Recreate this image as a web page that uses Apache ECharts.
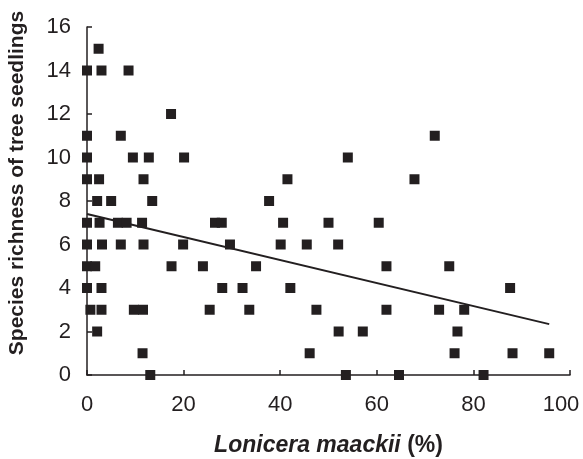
<!DOCTYPE html>
<html>
<head>
<meta charset="utf-8">
<script src="https://cdn.jsdelivr.net/npm/echarts@6/dist/echarts.min.js"></script>
<style>
  html, body { margin: 0; padding: 0; background: #fff; }
  #chart { width: 583px; height: 459px; }
</style>
</head>
<body>
<div id="chart"></div>
<script>
// Lonicera maackii cover (%) and seedling richness
const coverPct = [
  2.4, 0, 3.0, 8.6, 17.4,
  0, 7.0, 72,
  0, 9.5, 12.8, 20.1, 54,
  0, 2.5, 11.7, 41.5, 67.8,
  2.1, 5.0, 13.5, 37.7,
  0, 2.6, 6.4, 8.2, 11.4, 26.5, 27.9, 40.6, 50, 60.4,
  0, 3.1, 7.0, 11.7, 19.9, 29.6, 40.1, 45.5, 52,
  0, 1.7, 17.5, 24, 35, 62, 75,
  0, 3.0, 28, 32.2, 42.1, 87.6,
  0.7, 3.0, 9.7, 11.6, 25.4, 33.6, 47.5, 62, 72.9, 78.1,
  2.1, 52.1, 57.1, 76.7,
  11.5, 46.1, 76.1, 88.1, 95.7,
  13.1, 53.6, 64.6, 82.1
];
const richness = [
  15, 14, 14, 14, 12,
  11, 11, 11,
  10, 10, 10, 10, 10,
  9, 9, 9, 9, 9,
  8, 8, 8, 8,
  7, 7, 7, 7, 7, 7, 7, 7, 7, 7,
  6, 6, 6, 6, 6, 6, 6, 6, 6,
  5, 5, 5, 5, 5, 5, 5,
  4, 4, 4, 4, 4, 4,
  3, 3, 3, 3, 3, 3, 3, 3, 3, 3,
  2, 2, 2, 2,
  1, 1, 1, 1, 1,
  0, 0, 0, 0
];
// fitted trend line end points
const trendX = [0, 95.7];
const trendY = [7.40, 2.34];

const xTicks = [0, 20, 40, 60, 80, 100];
const yTicks = [0, 2, 4, 6, 8, 10, 12, 14, 16];

const ink = "#231f20";
const font = "Liberation Sans";
const points = coverPct.map((x, i) => [x, richness[i]]);
const trend = trendX.map((x, i) => [x, trendY[i]]);
const xMax = xTicks[xTicks.length - 1];

const chart = echarts.init(document.getElementById("chart"));
chart.setOption({
  animation: false,
  backgroundColor: "#fff",
  grid: { left: 87, right: 13, top: 27, bottom: 84, containLabel: false, outerBoundsMode: "none" },
  xAxis: {
    type: "value",
    min: xTicks[0],
    max: xMax,
    interval: 20,
    name: "{i|Lonicera maackii}{n| (%)}",
    nameLocation: "middle",
    nameGap: 59,
    nameTextStyle: {
      rich: {
        i: { fontFamily: font, fontSize: 23, fontWeight: "bold", fontStyle: "italic", color: ink },
        n: { fontFamily: font, fontSize: 23, fontWeight: "bold", color: ink },
      },
    },
    axisLine: { onZero: false, lineStyle: { color: ink, width: 1.5 } },
    axisTick: { inside: true, length: 5, lineStyle: { color: ink, width: 1.5 } },
    axisLabel: {
      fontFamily: font,
      fontSize: 22,
      color: ink,
      margin: 19,
      formatter: (v) => (v === xMax ? "{m|" + v + "}" : "" + v),
      rich: { m: { fontFamily: font, fontSize: 22, color: ink, padding: [0, 18, 0, 0] } },
    },
    splitLine: { show: false },
  },
  yAxis: {
    type: "value",
    min: yTicks[0],
    max: yTicks[yTicks.length - 1],
    interval: 2,
    name: "Species richness of tree seedlings",
    nameLocation: "middle",
    nameRotate: 90,
    nameGap: 59,
    nameTextStyle: { fontFamily: font, fontSize: 21, fontWeight: "bold", color: ink, padding: [0, 0, 0, 36] },
    axisLine: { onZero: false, lineStyle: { color: ink, width: 1.5 } },
    axisTick: { inside: true, length: 5, lineStyle: { color: ink, width: 1.5 } },
    axisLabel: { fontFamily: font, fontSize: 22, color: ink, margin: 16 },
    splitLine: { show: false },
  },
  series: [
    {
      type: "line",
      data: trend,
      symbol: "none",
      lineStyle: { color: ink, width: 2 },
      z: 2,
    },
    {
      type: "scatter",
      data: points,
      symbol: "rect",
      symbolSize: 10,
      clip: false,
      itemStyle: { color: ink, opacity: 1 },
      z: 3,
    },
  ],
});
</script>
</body>
</html>
